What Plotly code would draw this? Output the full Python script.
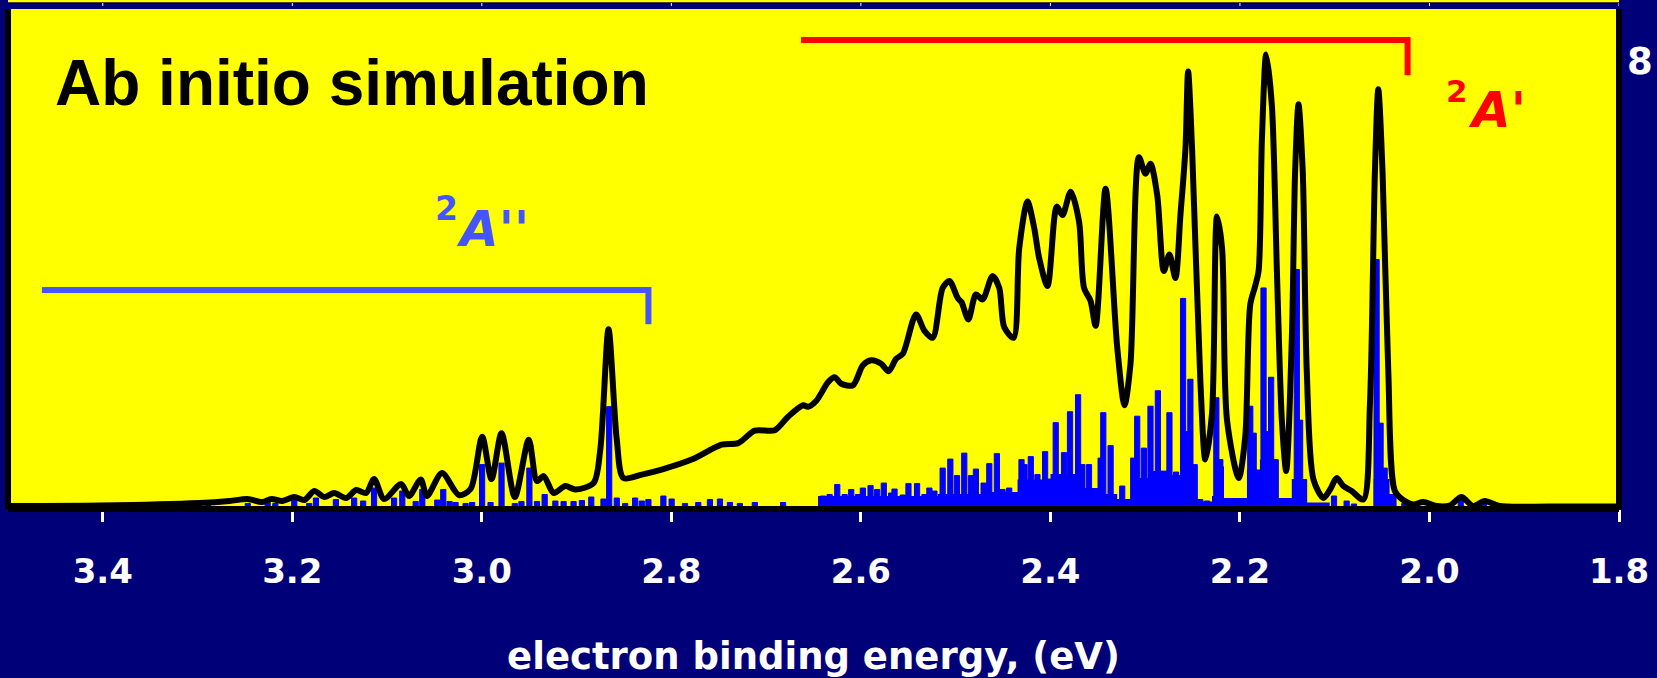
import plotly.graph_objects as go

# Simulated photoelectron spectrum: convolved envelope (black) and stick spectrum (blue)
curve_ev = [3.4979, 3.4031, 3.2979, 3.2663, 3.2473, 3.2316, 3.2221, 3.2105, 3.1979, 3.1873,
            3.1768, 3.1663, 3.1558, 3.1431, 3.1326, 3.1221, 3.1137, 3.1031, 3.0852, 3.0768,
            3.0645, 3.0579, 3.0421, 3.0242, 3.0119, 2.9997, 2.9898, 2.9792, 2.9652, 2.9505,
            2.9418, 2.9347, 2.9242, 2.9119, 2.9013, 2.8821, 2.8750, 2.8663, 2.8576, 2.8505,
            2.8312, 2.8102, 2.7786, 2.7470, 2.7295, 2.7119, 2.6908, 2.6768, 2.6610, 2.6558,
            2.6470, 2.6347, 2.6277, 2.6207, 2.6084, 2.5979, 2.5891, 2.5786, 2.5708, 2.5628,
            2.5558, 2.5418, 2.5329, 2.5242, 2.5137, 2.5066, 2.4979, 2.4937, 2.4866, 2.4786,
            2.4716, 2.4610, 2.4540, 2.4487, 2.4389, 2.4329, 2.4242, 2.4171, 2.4119, 2.4031,
            2.3933, 2.3873, 2.3786, 2.3698, 2.3645, 2.3576, 2.3523, 2.3418, 2.3295, 2.3218,
            2.3155, 2.3066, 2.2997, 2.2944, 2.2873, 2.2803, 2.2744, 2.2681, 2.2628, 2.2575,
            2.2547, 2.2505, 2.2418, 2.2365, 2.2295, 2.2242, 2.2189, 2.2137, 2.2013, 2.1944,
            2.1891, 2.1839, 2.1803, 2.1768, 2.1723, 2.1663, 2.1610, 2.1558, 2.1512, 2.1452,
            2.1418, 2.1382, 2.1337, 2.1295, 2.1224, 2.1119, 2.1049, 2.0979, 2.0908, 2.0821,
            2.0698, 2.0628, 2.0576, 2.0540, 2.0495, 2.0435, 2.0365, 2.0277, 2.0171, 2.0066,
            1.9926, 1.9786, 1.9663, 1.9540, 1.9417, 1.9260, 1.8733, 1.8031]
curve_int = [0.6, 0.7, 1.2, 1.6, 2.0, 1.4, 2.0, 1.6, 2.4, 1.8,
             3.6, 2.4, 3.2, 2.2, 3.8, 3.2, 6.0, 2.0, 5.0, 2.6,
             5.9, 2.6, 7.2, 2.8, 4.0, 14.5, 6.0, 15.2, 2.4, 13.9,
             5.6, 6.6, 3.2, 4.6, 3.9, 5.2, 11.9, 36.0, 13.9, 6.2,
             6.9, 7.9, 9.9, 12.9, 13.2, 15.7, 15.8, 18.5, 20.8, 20.5,
             21.7, 25.4, 26.4, 25.1, 24.8, 28.8, 29.8, 29.1, 27.6, 30.1,
             31.1, 39.0, 35.7, 34.3, 44.3, 45.7, 42.3, 41.4, 38.0, 43.0,
             42.0, 46.7, 44.3, 36.4, 34.3, 52.3, 61.6, 56.3, 50.3, 44.7,
             60.6, 58.9, 63.6, 57.6, 44.3, 41.7, 36.7, 64.2, 32.4, 20.8,
             29.1, 70.5, 67.2, 69.2, 62.9, 47.7, 51.0, 46.3, 58.9, 72.2,
             87.7, 72.2, 25.8, 9.9, 19.1, 58.6, 52.3, 17.9, 6.2, 14.5,
             41.0, 44.7, 47.7, 74.2, 91.1, 80.8, 47.7, 17.9, 7.6, 34.4,
             67.5, 81.1, 67.5, 27.8, 5.9, 2.2, 3.9, 6.2, 4.6, 3.6,
             1.9, 21.1, 67.5, 84.1, 67.5, 27.8, 3.6, 1.8, 0.9, 1.4,
             0.6, 0.7, 2.4, 0.6, 1.6, 0.6, 0.5, 0.5]

stick_ev = [3.2891, 3.2470, 3.2260, 3.2179, 3.1979, 3.1821, 3.1750, 3.1540, 3.1347, 3.1252,
            3.1137, 3.0926, 3.0839, 3.0698, 3.0628, 3.0470, 3.0407, 3.0340, 3.0277, 3.0171,
            3.0102, 2.9997, 2.9908, 2.9792, 2.9652, 2.9582, 2.9498, 2.9418, 2.9337, 2.9224,
            2.9137, 2.9032, 2.8944, 2.8845, 2.8716, 2.8656, 2.8576, 2.8487, 2.8382, 2.8312,
            2.8242, 2.8084, 2.7997, 2.7856, 2.7716, 2.7593, 2.7487, 2.7382, 2.7277, 2.7119,
            2.6821, 2.6400, 2.6330, 2.6249, 2.6171, 2.6102, 2.6031, 2.5979, 2.5898, 2.5828,
            2.5758, 2.5681, 2.5645, 2.5558, 2.5498, 2.5407, 2.5329, 2.5277, 2.5224, 2.5137,
            2.5056, 2.4986, 2.4909, 2.4838, 2.4786, 2.4705, 2.4645, 2.4565, 2.4505, 2.4435,
            2.4358, 2.4305, 2.4273, 2.4207, 2.4137, 2.4056, 2.3997, 2.3944, 2.3856, 2.3793,
            2.3708, 2.3663, 2.3593, 2.3470, 2.3442, 2.3365, 2.3242, 2.3126, 2.3084, 2.3014,
            2.2944, 2.2866, 2.2803, 2.2744, 2.2674, 2.2600, 2.2568, 2.2523, 2.2477, 2.2418,
            2.2347, 2.2249, 2.2207, 2.1891, 2.1855, 2.1751, 2.1716, 2.1671, 2.1631, 2.1400,
            2.1365, 2.1323, 2.1007, 2.0874, 2.0797, 2.0558, 2.0516, 2.0473, 2.0266, 1.9670,
            1.9424]
stick_int = [1.1, 1.1, 1.3, 1.1, 1.8, 1.1, 2.2, 1.9, 2.2, 1.6,
             4.2, 2.2, 3.6, 1.5, 3.9, 1.8, 3.9, 1.5, 1.3, 1.1,
             1.3, 8.9, 1.3, 9.2, 1.1, 1.5, 8.2, 1.5, 2.9, 1.6,
             1.5, 1.5, 1.7, 2.4, 2.0, 20.5, 2.2, 1.1, 2.2, 1.6,
             1.9, 2.6, 2.0, 1.1, 1.3, 1.9, 2.0, 1.3, 1.1, 1.3,
             1.3, 2.6, 2.9, 4.9, 2.9, 3.9, 2.9, 4.2, 4.7, 3.9,
             5.2, 3.2, 4.0, 2.8, 5.1, 5.1, 2.9, 4.2, 3.6, 8.2,
             10.0, 6.7, 11.2, 6.7, 8.0, 5.2, 9.1, 11.1, 3.9, 4.2,
             3.0, 9.9, 8.9, 10.5, 6.9, 11.5, 6.0, 17.3, 11.3, 19.5,
             22.9, 8.9, 8.9, 10.2, 19.3, 12.7, 4.6, 10.2, 18.6, 12.2,
             20.6, 23.7, 7.6, 19.3, 7.4, 42.2, 15.5, 26.0, 8.9, 1.9,
             1.6, 22.3, 9.9, 20.6, 15.2, 44.3, 15.5, 26.4, 9.9, 48.0,
             17.8, 5.9, 2.6, 1.6, 1.0, 50.0, 17.2, 8.2, 1.1, 2.2,
             1.3]

# Dense low-lying stick background, as a stepped envelope
floor_ev = [2.6470, 2.6452, 2.5189, 2.4689, 2.4347, 2.3999, 2.3642, 2.3474, 2.3295, 2.3137,
            2.2947, 2.2800, 2.2589, 2.2453, 2.2295, 2.2242, 2.2168, 2.1926, 2.1789, 2.1589,
            2.1453, 2.1295, 2.1053, 2.0589, 2.0421, 2.0347]
floor_int = [0.0, 2.6, 3.0, 3.4, 5.9, 7.0, 4.2, 3.0, 2.0, 6.2,
             7.6, 6.8, 8.5, 1.5, 2.6, 8.5, 2.2, 7.9, 9.9, 2.2,
             6.0, 1.3, 0.0, 6.0, 3.0, 0.0]

tick_vals = [3.4, 3.2, 3.0, 2.8, 2.6, 2.4, 2.2, 2.0, 1.8]
tick_text = [f"{v:.1f}" for v in tick_vals]

# Energy windows of the two electronic states (eV, bracket height)
a2pp_range = [3.4642, 2.8242]
a2pp_level = [43.9, 37.0]
a2p_range = [2.6631, 2.0231]
a2p_level = [94.0, 86.9]

NAVY = "#000078"
YELLOW = "#ffff00"
STICK_BLUE = "#0000ff"
BRACKET_BLUE = "#4455ff"
RED = "#ff0000"
LABEL_FONT = "DejaVu Sans"

fig = go.Figure()

fig.add_trace(go.Scatter(
    x=floor_ev, y=floor_int, mode="lines", line=dict(shape="hv", width=0, color=STICK_BLUE),
    fill="tozeroy", fillcolor=STICK_BLUE, hoverinfo="skip", showlegend=False))

fig.add_trace(go.Bar(
    x=stick_ev, y=stick_int, width=0.0055,
    marker=dict(color=STICK_BLUE, line=dict(width=1, color=STICK_BLUE)),
    showlegend=False))

fig.add_trace(go.Scatter(
    x=curve_ev, y=curve_int, mode="lines",
    line=dict(color="black", width=6, shape="spline", smoothing=0.8),
    showlegend=False))

shapes = []
# state brackets
shapes.append(dict(type="path", xref="x", yref="y",
                   path=f"M {a2pp_range[0]},{a2pp_level[0]} L {a2pp_range[1]},{a2pp_level[0]} L {a2pp_range[1]},{a2pp_level[1]}",
                   line=dict(color=BRACKET_BLUE, width=6)))
shapes.append(dict(type="path", xref="x", yref="y",
                   path=f"M {a2p_range[0]},{a2p_level[0]} L {a2p_range[1]},{a2p_level[0]} L {a2p_range[1]},{a2p_level[1]}",
                   line=dict(color=RED, width=6)))
# frame: left, bottom, right
for x0, y0, x1, y1 in [(0, 0, 0, 1), (0, 0, 1, 0), (1, 0, 1, 1)]:
    shapes.append(dict(type="line", xref="paper", yref="paper", x0=x0, y0=y0, x1=x1, y1=y1,
                       line=dict(color="black", width=6), layer="above"))
# edge of the panel above
shapes.append(dict(type="rect", xref="paper", yref="paper", x0=0, x1=1, y0=1.0129, y1=1.02,
                   fillcolor=YELLOW, line=dict(width=0), layer="above"))
shapes.append(dict(type="line", xref="paper", yref="paper", x0=0, x1=1, y0=1.0119, y1=1.0119,
                   line=dict(color="black", width=1), layer="above"))
for v in tick_vals:
    shapes.append(dict(type="line", xref="x", yref="paper", x0=v, x1=v, y0=1.006, y1=1.0119,
                       line=dict(color="white", width=1), layer="above"))

annotations = [
    dict(text="Ab initio simulation", xref="paper", yref="paper", x=0.0279, y=0.853,
         xanchor="left", yanchor="middle", showarrow=False,
         font=dict(family="Liberation Sans", size=64, color="black", weight="bold")),
    dict(text="A'", xref="paper", yref="paper", x=0.9244, y=0.7976,
         xanchor="center", yanchor="middle", showarrow=False,
         font=dict(family=LABEL_FONT, size=50, color=RED, weight="bold", style="italic")),
    dict(text="2", xref="paper", yref="paper", x=0.8996, y=0.8363,
         xanchor="center", yanchor="middle", showarrow=False,
         font=dict(family=LABEL_FONT, size=31, color=RED, weight="bold")),
    dict(text="A''", xref="paper", yref="paper", x=0.3005, y=0.5595,
         xanchor="center", yanchor="middle", showarrow=False,
         font=dict(family=LABEL_FONT, size=50, color=BRACKET_BLUE, weight="bold", style="italic")),
    dict(text="2", xref="paper", yref="paper", x=0.2725, y=0.6002,
         xanchor="center", yanchor="middle", showarrow=False,
         font=dict(family=LABEL_FONT, size=33, color=BRACKET_BLUE, weight="bold")),
    dict(text="8", xref="paper", yref="paper", x=1.013, y=0.8958,
         xanchor="center", yanchor="middle", showarrow=False,
         font=dict(family=LABEL_FONT, size=37, color="white", weight="bold")),
]

fig.update_layout(
    width=1657, height=678,
    margin=dict(l=8, r=35, t=9, b=165),
    paper_bgcolor=NAVY, plot_bgcolor=YELLOW,
    barmode="overlay",
    shapes=shapes, annotations=annotations,
    xaxis=dict(
        range=[3.5, 1.8], tickmode="array", tickvals=tick_vals, ticktext=tick_text,
        ticks="outside", ticklen=12, tickwidth=3, tickcolor="white",
        ticklabelstandoff=20,
        tickfont=dict(family=LABEL_FONT, size=34, color="white", weight="bold"),
        showgrid=False, zeroline=False, showline=False,
        title=dict(text="electron binding energy, (eV)", standoff=53,
                   font=dict(family=LABEL_FONT, size=37, color="white", weight="bold")),
    ),
    yaxis=dict(range=[0, 100.2], visible=False, showgrid=False, zeroline=False),
)

fig.write_html("out.html")
